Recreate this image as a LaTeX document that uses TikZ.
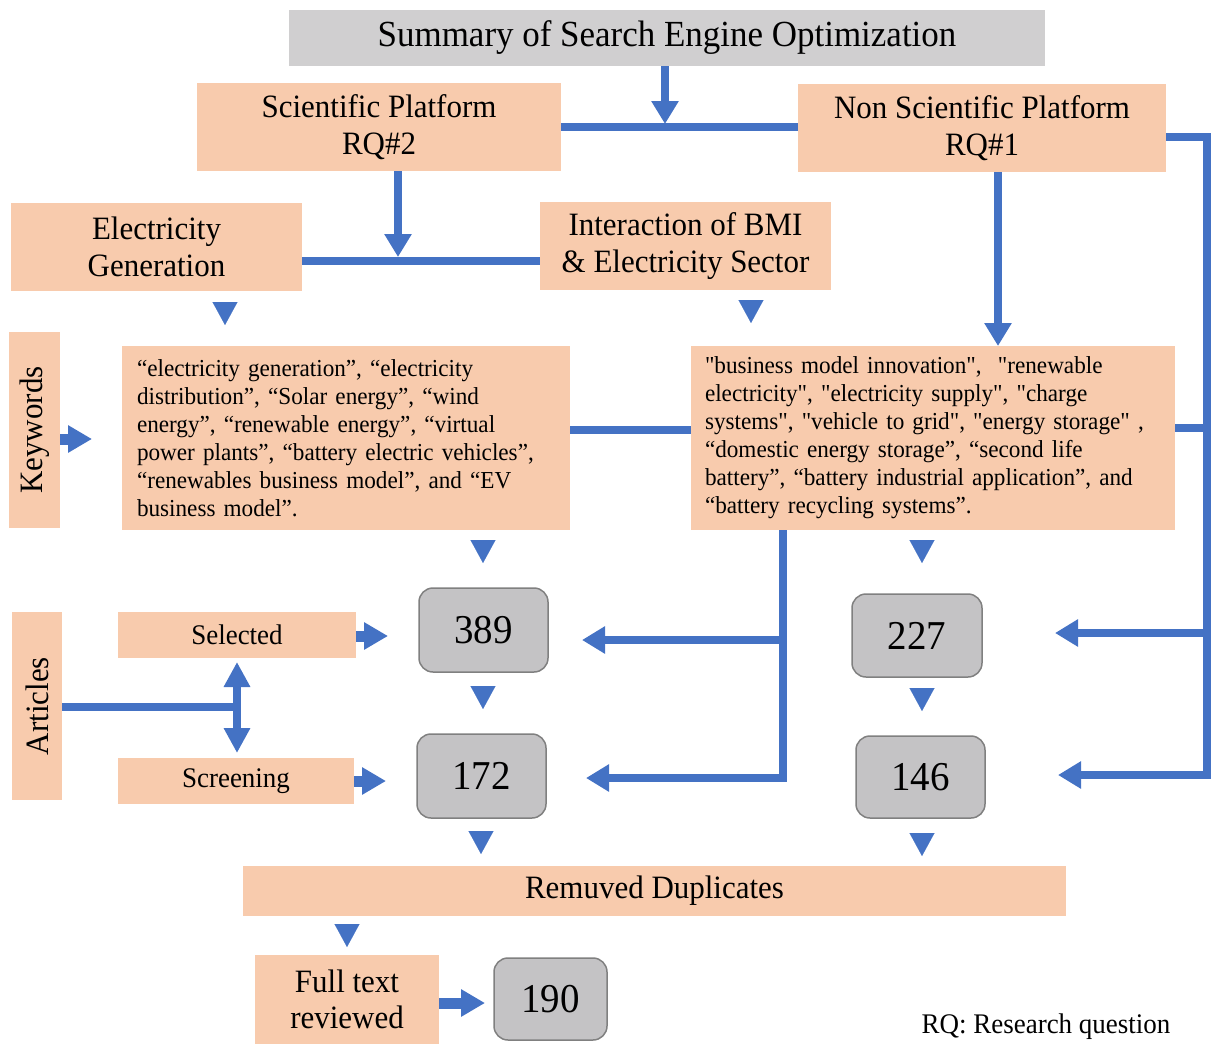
\documentclass[tikz,border=0pt]{standalone}
\usepackage{fontspec}
\setmainfont{Liberation Serif}[FakeStretch=0.95]
\newfontfamily\kwfont{Liberation Serif}[FakeStretch=0.95]
\usetikzlibrary{arrows.meta,calc}
\definecolor{peach}{HTML}{F8CBAD}
\definecolor{arrowblue}{HTML}{4472C4}
\definecolor{titlegray}{HTML}{D0CFD0}
\definecolor{numgray}{HTML}{C4C3C5}
\definecolor{numborder}{HTML}{808080}
\begin{document}
\begin{tikzpicture}[x=1pt,y=-1pt,
  peachbox/.style={fill=peach, draw=none, inner sep=0pt, align=center},
  bigt/.style={font=\fontsize{32.6}{37}\selectfont},
  midt/.style={font=\fontsize{28.4}{32}\selectfont},
  kwt/.style={font=\kwfont\fontsize{24.4}{28}\selectfont},
  numbox/.style={fill=numgray, draw=numborder, line width=1.5pt, rounded corners=14pt, inner sep=0pt, font=\fontsize{41}{46}\selectfont},
  conn/.style={draw=arrowblue, line width=7.5pt, line join=miter},
  arr/.style={conn, -{Triangle[width=26pt,length=23pt]}},
  fat/.style={draw=arrowblue, line width=11pt, -{Triangle[width=26pt,length=24pt]}},
  dbl/.style={draw=arrowblue, line width=8pt, {Triangle[width=25pt,length=25pt]}-{Triangle[width=25pt,length=25pt]}},
  tri/.style={draw=arrowblue, line width=0.1pt, -{Triangle[width=25pt,length=23pt]}},
]
\useasboundingbox (0,0) rectangle (1211,1044);

% nodes
\node[fill=titlegray, minimum width=756pt, minimum height=56pt, inner sep=0pt, font=\fontsize{36.8}{40}\selectfont] (title) at (667,38) {Summary of Search Engine Optimization};
\node[peachbox, bigt, minimum width=364pt, minimum height=88pt] (sci) at (379,127) {Scientific Platform\\RQ\#2};
\node[peachbox, bigt, minimum width=368pt, minimum height=88pt] (nonsci) at (982,128) {Non Scientific Platform\\RQ\#1};
\node[peachbox, bigt, minimum width=291pt, minimum height=88pt] (elec) at (156.5,247) {Electricity\\Generation};
\node[peachbox, bigt, minimum width=291pt, minimum height=88pt] (inter) at (685.5,246) {Interaction of BMI\\\& Electricity Sector};
\node[peachbox, bigt, rotate=90, minimum width=196pt, minimum height=51pt] (keywords) at (34.5,430) {Keywords};
\node[peachbox, kwt, align=left, text width=418pt, inner xsep=15pt, inner ysep=0pt, minimum height=184pt] (kwL) at (346,438)
  {“electricity generation”, “electricity\\
   distribution”, “Solar energy”, “wind\\
   energy”, “renewable energy”, “virtual\\
   power plants”, “battery electric vehicles”,\\
   “renewables business model”, and “EV\\
   business model”.};
\node[peachbox, kwt, align=left, text width=456pt, inner xsep=14pt, inner ysep=0pt, minimum height=184pt] (kwR) at (933,438)
  {"business model innovation",\ \ "renewable\\
   electricity", "electricity supply", "charge\\
   systems", "vehicle to grid", "energy storage" ,\\
   “domestic energy storage”, “second life\\
   battery”, “battery industrial application”, and\\
   “battery recycling systems”.};
\node[numbox, minimum width=129pt, minimum height=84pt] (n389) at (483.5,630) {389};
\node[numbox, minimum width=130pt, minimum height=83pt] (n227) at (917,635.5) {227};
\node[numbox, minimum width=129pt, minimum height=84pt] (n172) at (481.5,776) {172};
\node[numbox, minimum width=129pt, minimum height=82pt] (n146) at (920.5,777) {146};
\node[peachbox, bigt, rotate=90, minimum width=188pt, minimum height=50pt] (articles) at (37,706) {Articles};
\node[peachbox, midt, minimum width=238pt, minimum height=46pt] (selected) at (237,635) {Selected};
\node[peachbox, midt, minimum width=236pt, minimum height=46pt] (screening) at (236,781) {Screening};
\node[peachbox, bigt, minimum width=823pt, minimum height=50pt] (remuved) at (654.5,891) {Remuved Duplicates};
\node[peachbox, font=\fontsize{32.6}{36}\selectfont, minimum width=184pt, minimum height=89pt] (fulltext) at (347,999.5) {Full text\\reviewed};
\node[numbox, minimum width=113pt, minimum height=82pt] (n190) at (550.5,999) {190};
\node[midt, inner sep=0pt] (note) at (1046,1027) {RQ: Research question};

% coordinates
\coordinate (tsplit) at (665,128);
\coordinate (egsplit) at (398,261);
\coordinate (kwtip) at (92,439);
\coordinate (kwline) at (630,430);
\coordinate (nsdown) at (998,346);
\coordinate (rb1) at (1207,137);
\coordinate (rb2) at (1207,775);
\coordinate (r428) at (1207,428);
\coordinate (r227) at (1207,633);
\coordinate (tip227) at (1055,633);
\coordinate (tip146) at (1058,775);
\coordinate (mb1) at (783,640);
\coordinate (mb2) at (783,778);
\coordinate (tip389) at (582,640);
\coordinate (tip172) at (586,778);
\coordinate (abus) at (237,707);
\coordinate (dtop) at (237,662);
\coordinate (dbot) at (237,753);
\coordinate (s389) at (388,636);
\coordinate (s172) at (386,781);
\coordinate (f190) at (485,1003);

% connectors
\draw[arr] (title.south -| tsplit) -- ([yshift=4pt]tsplit);
\draw[conn] (sci.east) -- (sci.east -| nonsci.west);
\draw[arr] (sci.south -| egsplit) -- ([yshift=4pt]egsplit);
\draw[conn] (elec.east |- egsplit) -- (inter.west |- egsplit);
\draw[fat] (keywords.south |- kwtip) -- (kwtip);
\draw[conn] (kwL.east |- kwline) -- (kwR.west |- kwline);
\draw[arr] (nonsci.south -| nsdown) -- (nsdown);
\draw[arr] (nonsci.east |- rb1) -- (rb1) -- (rb2) -- (tip146);
\draw[arr] (r227) -- (tip227);
\draw[conn] (kwR.east |- r428) -- (r428);
\draw[arr] (kwR.south -| mb1) -- (mb2) -- (tip172);
\draw[arr] (mb1) -- (tip389);
\draw[conn] (articles.south |- abus) -- ([xshift=4pt]abus);
\draw[dbl] (dtop) -- (dbot);
\draw[fat] (selected.east |- s389) -- (s389);
\draw[fat] (screening.east |- s172) -- (s172);
\draw[fat] (fulltext.east |- f190) -- (f190);

% floating arrowheads
\foreach \x/\y in {225/302, 751/300, 483/540, 922/540, 483/686, 922/688, 481/831, 922/833, 347/924}
  \draw[tri] (\x,\y) -- (\x,\y+23);
\end{tikzpicture}
\end{document}
